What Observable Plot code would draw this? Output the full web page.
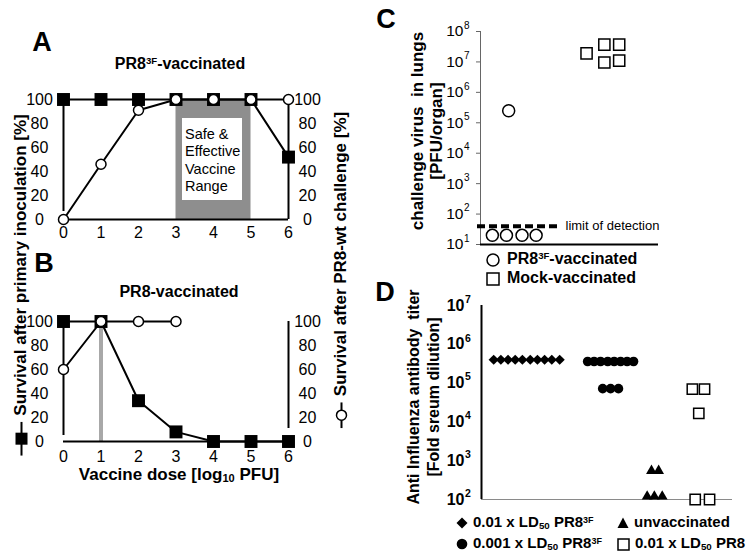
<!DOCTYPE html>
<html><head><meta charset="utf-8">
<script src="https://cdn.jsdelivr.net/npm/d3@7"></script>
<script src="https://cdn.jsdelivr.net/npm/@observablehq/plot@0.6"></script>
<style>
html,body{margin:0;padding:0;background:#fff;}
#fig{position:relative;width:750px;height:558px;overflow:hidden;font-family:"Liberation Sans",Arial,Helvetica,sans-serif;color:#000;}
#fig svg.layer{position:absolute;left:0;top:0;}
.t{position:absolute;white-space:nowrap;line-height:1;}
.b{font-weight:bold;}
sup.s{font-size:0.6em;vertical-align:0.5em;line-height:0;}
sub.s{font-size:0.65em;vertical-align:-0.25em;line-height:0;}
.sym{display:inline-block;vertical-align:middle;}
</style></head>
<body><div id="fig"></div>
<script>
// ---------------- DATA ----------------
// Panels A/B: vaccine dose (log10 PFU)
const doses = [0, 1, 2, 3, 4, 5, 6];
const pctTicks = [0, 20, 40, 60, 80, 100];
// A: PR8-3F vaccinated
const aPrimary   = [100, 100, 100, 100, 100, 100, 52];
const aChallenge = [0, 46, 91, 100, 100, 100, 100];
const safeRange = [3, 5];
const safeLabel = "Safe &\nEffective\nVaccine\nRange";
// B: PR8 vaccinated
const bPrimary = [100, 100, 34, 8, 0, 0, 0];
const bChallengeDoses = [0, 1, 2, 3];
const bChallenge = [60, 100, 100, 100];
const pr8Dose = [1];

// Panel C: challenge virus in lungs (PFU/organ)
const cTicks = [1e1, 1e2, 1e3, 1e4, 1e5, 1e6, 1e7, 1e8];
const cVaccSlot = [0.8, 1.75, 2.8, 3.75, 1.9];
const cVacc     = [20, 20, 20, 20, 2.5e5];
const cMockSlot = [7.15, 8.35, 8.35, 9.35, 9.35];
const cMock     = [1.9e7, 3.7e7, 9.6e6, 3.7e7, 1.1e7];
const limitOfDetection = [40];

// Panel D: antibody titer (fold serum dilution)
const dTicks = [1e2, 1e3, 1e4, 1e5, 1e6, 1e7];
const dDiamondSlot = [1.7, 2.7, 3.7, 4.7, 5.7, 6.8, 7.8, 8.8, 9.8, 10.9];
const dDiamond     = [4e5, 4e5, 4e5, 4e5, 4e5, 4e5, 4e5, 4e5, 4e5, 4e5];
const dCircleSlot  = [14.8, 15.7, 16.6, 17.6, 18.5, 19.4, 20.3, 21.2, 16.9, 18.0, 19.1];
const dCircle      = [3.6e5, 3.6e5, 3.6e5, 3.6e5, 3.6e5, 3.6e5, 3.6e5, 3.6e5, 7.2e4, 7.2e4, 7.2e4];
const dTriSlot = [23.7, 24.7, 23.1, 24.1, 25.2];
const dTri     = [5.5e2, 5.5e2, 1.2e2, 1.2e2, 1.2e2];
const dSqSlot = [29.4, 31.1, 30.3, 29.8, 31.8];
const dSq     = [7e4, 7e4, 1.65e4, 1e2, 1e2];

// ---------------- TABLES ----------------
const A = doses.map((d, i) => ({dose: d, primary: aPrimary[i], challenge: aChallenge[i]}));
const Bp = doses.map((d, i) => ({dose: d, primary: bPrimary[i]}));
const Bc = bChallengeDoses.map((d, i) => ({dose: d, challenge: bChallenge[i]}));
const Cv = cVaccSlot.map((s, i) => ({s, v: cVacc[i]}));
const Cm = cMockSlot.map((s, i) => ({s, v: cMock[i]}));
const Dd = dDiamondSlot.map((s, i) => ({s, v: dDiamond[i]}));
const Dc = dCircleSlot.map((s, i) => ({s, v: dCircle[i]}));
const Dt = dTriSlot.map((s, i) => ({s, v: dTri[i]}));
const Ds = dSqSlot.map((s, i) => ({s, v: dSq[i]}));

const FONT = '"Liberation Sans", Arial, Helvetica, sans-serif';
const fig = document.getElementById("fig");
const W = 750, H = 558;
function add(svg){ svg.classList.add("layer"); fig.appendChild(svg); }
const baseStyle = {background: "transparent", overflow: "visible", fontFamily: FONT, color: "black"};

// ---------------- PANEL A / B ----------------
function survivalPanel(top, bottom, primary, challenge, extraUnder, leftInsetTop, rightInsetTop, xTickDy) {
  return Plot.plot({
    width: W, height: H,
    marginLeft: 63, marginRight: W - 288, marginTop: top, marginBottom: H - bottom,
    style: baseStyle,
    x: {domain: [0, 6], axis: null},
    y: {domain: [0, 100], axis: null},
    marks: [
      ...extraUnder,
      Plot.ruleX([0], {x: d => d, y1: 0, y2: 100, stroke: "black", strokeWidth: 2, insetTop: leftInsetTop}),
      Plot.ruleX([6], {x: d => d, y1: 0, y2: 100, stroke: "black", strokeWidth: 2, insetTop: rightInsetTop}),
      Plot.ruleY([0], {y: d => d, x1: 0, x2: 6, stroke: "black", strokeWidth: 2}),
      Plot.line(primary, {x: "dose", y: "primary", stroke: "black", strokeWidth: 2}),
      Plot.line(challenge, {x: "dose", y: "challenge", stroke: "black", strokeWidth: 2}),
      Plot.dot(primary, {x: "dose", y: "primary", symbol: "square", r: 7.3, fill: "black"}),
      Plot.dot(challenge, {x: "dose", y: "challenge", r: 5, fill: "white", stroke: "black", strokeWidth: 1.5}),
      Plot.text(pctTicks, {y: d => d, text: d => String(d), frameAnchor: "left", dx: -24, textAnchor: "middle", lineAnchor: "middle", fontSize: 16}),
      Plot.text(pctTicks, {y: d => d, text: d => String(d), frameAnchor: "right", dx: 19, textAnchor: "middle", lineAnchor: "middle", fontSize: 16}),
      Plot.text(doses, {x: d => d, text: d => String(d), frameAnchor: "bottom", dy: xTickDy, lineAnchor: "middle", fontSize: 16})
    ]
  });
}

add(survivalPanel(99, 219, A, A, [
  Plot.rect([safeRange], {x1: d => d[0], x2: d => d[1], y1: 0, y2: 100, fill: "#8e8e8e"}),
  Plot.rect([safeRange], {x1: d => d[0], x2: d => d[1], y1: 0, y2: 100, fill: "white",
    insetLeft: 6.5, insetRight: 8.5, insetTop: 19, insetBottom: 19}),
  Plot.text([safeRange], {x: d => d[0], y: 50, text: () => safeLabel, dx: 9, textAnchor: "start",
    lineAnchor: "middle", lineHeight: 1.2, fontSize: 14.5})
], -8, 0, 13));

add(survivalPanel(321, 441, Bp, Bc, [
  Plot.ruleX(pr8Dose, {x: d => d, y1: 0, y2: 100, stroke: "#a8a8a8", strokeWidth: 4})
], -6, -13, 15));

// ---------------- PANEL C ----------------
add(Plot.plot({
  width: W, height: H,
  marginLeft: 480, marginRight: W - 658, marginTop: 31, marginBottom: H - 244,
  style: baseStyle,
  x: {domain: [0, 12], axis: null},
  y: {type: "log", domain: [1e1, 1e8], axis: null},
  marks: [
    Plot.ruleX([0], {x: d => d, y1: 1e1, y2: 1e8, stroke: "#666", strokeWidth: 1}),
    Plot.ruleY(cTicks, {y: d => d, x1: 0, x2: 0, insetLeft: -4, stroke: "#666", strokeWidth: 1}),
    Plot.text(cTicks, {y: d => d, text: () => "10", frameAnchor: "left", dx: -17, textAnchor: "end", lineAnchor: "middle", fontSize: 15.5}),
    Plot.text(cTicks, {y: d => d, text: d => String(Math.round(Math.log10(d))), frameAnchor: "left", dx: -16.5, dy: -6, textAnchor: "start", lineAnchor: "middle", fontSize: 10}),
    Plot.ruleY([1e1], {y: d => d, stroke: "black", strokeWidth: 2}),
    Plot.ruleY(limitOfDetection, {y: d => d, stroke: "black", strokeWidth: 4, strokeDasharray: "8,4", insetLeft: -3, insetRight: 98}),
    Plot.text(limitOfDetection, {y: d => d, text: () => "limit of detection", frameAnchor: "left", dx: 85, textAnchor: "start", lineAnchor: "middle", fontSize: 13}),
    Plot.dot(Cv, {x: "s", y: "v", r: 6, fill: "white", stroke: "black", strokeWidth: 1.5}),
    Plot.dot(Cm, {x: "s", y: "v", symbol: "square", r: 6.3, fill: "white", stroke: "black", strokeWidth: 1.5})
  ]
}));

// ---------------- PANEL D ----------------
add(Plot.plot({
  width: W, height: H,
  marginLeft: 481, marginRight: W - 732, marginTop: 305, marginBottom: H - 499,
  style: baseStyle,
  x: {domain: [0, 35], axis: null},
  y: {type: "log", domain: [1e2, 1e7], axis: null},
  marks: [
    Plot.ruleY([1e2], {y: d => d, stroke: "#8a8a8a", strokeWidth: 1.2}),
    Plot.ruleX([0], {x: d => d, y1: 1e2, y2: 1e7, stroke: "black", strokeWidth: 2}),
    Plot.text(dTicks, {y: d => d, text: () => "10", frameAnchor: "left", dx: -17, textAnchor: "end", lineAnchor: "middle", fontSize: 16, fontWeight: "bold"}),
    Plot.text(dTicks, {y: d => d, text: d => String(Math.round(Math.log10(d))), frameAnchor: "left", dx: -16.5, dy: -6, textAnchor: "start", lineAnchor: "middle", fontSize: 10.5, fontWeight: "bold"}),
    Plot.dot(Dd, {x: "s", y: "v", symbol: "diamond2", r: 4.6, fill: "black"}),
    Plot.dot(Dc, {x: "s", y: "v", r: 4.8, fill: "black"}),
    Plot.dot(Dt, {x: "s", y: "v", symbol: "triangle", r: 4, fill: "black"}),
    Plot.dot(Ds, {x: "s", y: "v", symbol: "square", r: 5.8, fill: "white", stroke: "black", strokeWidth: 1.5})
  ]
}));

// ---------------- TEXT / LEGENDS ----------------
function label(html, x, y, cls, css, rot) {
  const d = document.createElement("div");
  d.className = "t " + (cls || "");
  d.innerHTML = html;
  d.style.left = x + "px"; d.style.top = y + "px";
  if (css) Object.assign(d.style, css);
  d.style.transform = "translate(-50%,-50%)" + (rot ? ` rotate(${rot}deg)` : "");
  fig.appendChild(d);
  return d;
}
const sup3F = '<sup class="s">3F</sup>';
const sub50 = '<sub class="s">50</sub>';

// panel letters
label("A", 42, 42, "b", {fontSize: "27px"});
label("B", 44, 263, "b", {fontSize: "27px"});
label("C", 386, 19, "b", {fontSize: "27px"});
label("D", 385, 292, "b", {fontSize: "27px"});

// titles
label("PR8" + sup3F + "-vaccinated", 180, 64, "b", {fontSize: "16px"});
label("PR8-vaccinated", 179, 292, "b", {fontSize: "16px"});
label("Vaccine dose [log" + sub50.replace("50", "10") + " PFU]", 179, 474, "b", {fontSize: "17px"});

// left shared y title with filled-square symbol
const symSq = '<svg class="sym" width="34" height="14" style="margin-right:6px"><line x1="0" y1="7" x2="34" y2="7" stroke="black" stroke-width="2"/><rect x="11" y="1" width="12" height="12" fill="black"/></svg>';
label(symSq + "Survival after primary inoculation [%]", 20, 285, "b", {fontSize: "17px"}, -90);

// right shared y title with open-circle symbol
const symCi = '<svg class="sym" width="26" height="14" style="margin-right:6px"><line x1="0" y1="7" x2="26" y2="7" stroke="black" stroke-width="2"/><circle cx="13" cy="7" r="5" fill="white" stroke="black" stroke-width="1.5"/></svg>';
label(symCi + "Survival after PR8-wt challenge [%]", 340, 270, "b", {fontSize: "17px"}, -90);

// C y title
label("challenge virus&nbsp; in lungs<br>[PFU/organ]", 427, 131, "b", {fontSize: "17px", lineHeight: "19px", textAlign: "center"}, -90);
// C legend
const openCircle = '<svg class="sym" width="14" height="14"><circle cx="7" cy="7" r="6" fill="white" stroke="black" stroke-width="1.5"/></svg>';
const openSquare = '<svg class="sym" width="14" height="14"><rect x="1" y="1" width="12" height="12" fill="white" stroke="black" stroke-width="1.5"/></svg>';
function legendAt(sym, html, x, y, size, gap) {
  const d = label(sym + `<span style="margin-left:${gap}px">` + html + '</span>', 0, 0, "b", {fontSize: size});
  d.style.cssText += `left:${x}px;top:${y}px;transform:none;`;
}
legendAt(openCircle, "PR8" + sup3F + "-vaccinated", 486, 251, "16px", 7);
legendAt(openSquare, "Mock-vaccinated", 486, 270, "16px", 7);

// D y title
label("Anti Influenza antibody&nbsp; titer<br>[Fold sreum dilution]", 424, 397, "b", {fontSize: "16px", lineHeight: "20px", textAlign: "center"}, -90);
// D legend
const fDiamond = '<svg class="sym" width="12" height="12"><path d="M6,0.5L11.5,6L6,11.5L0.5,6Z" fill="black"/></svg>';
const fCircle = '<svg class="sym" width="12" height="12"><circle cx="6" cy="6" r="5.3" fill="black"/></svg>';
const fTri = '<svg class="sym" width="12" height="12"><path d="M6,0.5L11.5,11L0.5,11Z" fill="black"/></svg>';
const oSq = '<svg class="sym" width="13" height="13"><rect x="1" y="1" width="11" height="11" fill="white" stroke="black" stroke-width="1.5"/></svg>';
legendAt(fDiamond, "0.01 x LD" + sub50 + " PR8" + sup3F, 456, 514, "15px", 5);
legendAt(fCircle, "0.001 x LD" + sub50 + " PR8" + sup3F, 456, 535, "15px", 5);
legendAt(fTri, "unvaccinated", 617, 514, "15px", 5);
legendAt(oSq, "0.01 x LD" + sub50 + " PR8", 617, 535, "15px", 5);
</script>
</body></html>
